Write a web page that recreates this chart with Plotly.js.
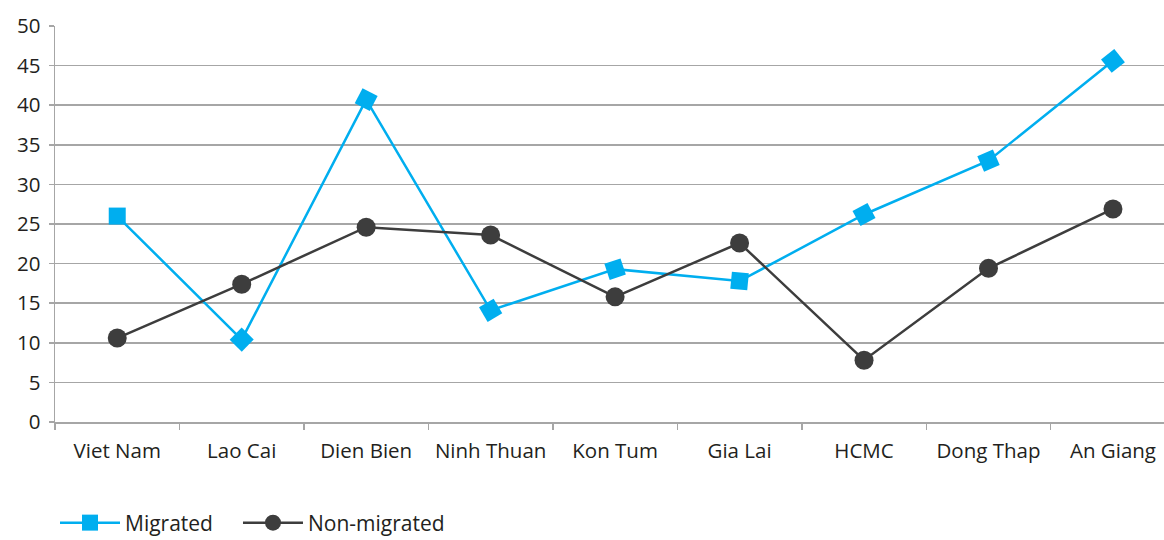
<!DOCTYPE html>
<html><head><meta charset="utf-8">
<script src="https://cdn.plot.ly/plotly-3.0.1.min.js"></script>
<style>html,body{margin:0;padding:0;background:#fff}#c{width:1164px;height:540px}</style>
</head><body><div id="c"></div>
<script>
const categories = ["Viet Nam","Lao Cai","Dien Bien","Ninh Thuan","Kon Tum","Gia Lai","HCMC","Dong Thap","An Giang"];
const migrated = [26.0, 10.4, 40.7, 14.1, 19.3, 17.8, 26.2, 33.0, 45.6];
const nonMigrated = [10.6, 17.4, 24.6, 23.6, 15.8, 22.6, 7.8, 19.4, 26.9];
const yTicks = [0,5,10,15,20,25,30,35,40,45,50];

const font = {family: "Open Sans, Noto Sans, sans-serif", size: 20.5, color: "#231f20"};
const blue = "#00aeef", dark = "#3d3d3d";
const traces = [
  {x: categories, y: migrated, name: "Migrated", type: "scatter", mode: "lines+markers",
   line: {color: blue, width: 2.5}, legend: "legend",
   marker: {symbol: "square", size: 17, color: blue, angleref: "previous"}},
  {x: categories.slice(0, 1), y: migrated.slice(0, 1), name: "Migrated", type: "scatter", mode: "markers",
   showlegend: false, marker: {symbol: "square", size: 17, color: blue}},
  {x: categories, y: nonMigrated, name: "Non-migrated", type: "scatter", mode: "lines+markers",
   line: {color: dark, width: 2.5}, legend: "legend2",
   marker: {symbol: "circle", size: 19, color: dark}}
];
const legBase = {orientation: "h", xanchor: "left", y: -0.255, yanchor: "middle",
  font: {family: font.family, size: 21, color: "#231f20"}, itemwidth: 60, bgcolor: "rgba(0,0,0,0)"};
const layout = {
  width: 1164, height: 540,
  margin: {l: 55, r: 0, t: 26, b: 118, autoexpand: false},
  font: font,
  paper_bgcolor: "#fff", plot_bgcolor: "#fff",
  showlegend: true,
  legend: Object.assign({}, legBase, {x: 0.0}),
  legend2: Object.assign({}, legBase, {x: 0.165}),
  xaxis: {type: "category", range: [-0.5, 8.41], showgrid: false, showline: true,
          linecolor: "#a6a6a6", linewidth: 1.5, ticks: "outside", tickson: "boundaries",
          ticklen: 6, tickcolor: "#a6a6a6", tickwidth: 1.5, zeroline: false,
          tickfont: font, ticklabelstandoff: 10, fixedrange: true},
  yaxis: {range: [0, 50], tickvals: yTicks, showgrid: true, gridcolor: "#a6a6a6", gridwidth: 1.5,
          showline: true, linecolor: "#a6a6a6", linewidth: 1.5, ticks: "outside", ticklen: 5,
          tickcolor: "#a6a6a6", tickwidth: 1.5, zeroline: false, tickfont: font, ticklabelstandoff: 4}
};
Plotly.newPlot("c", traces, layout, {displayModeBar: false, staticPlot: true});
</script></body></html>
